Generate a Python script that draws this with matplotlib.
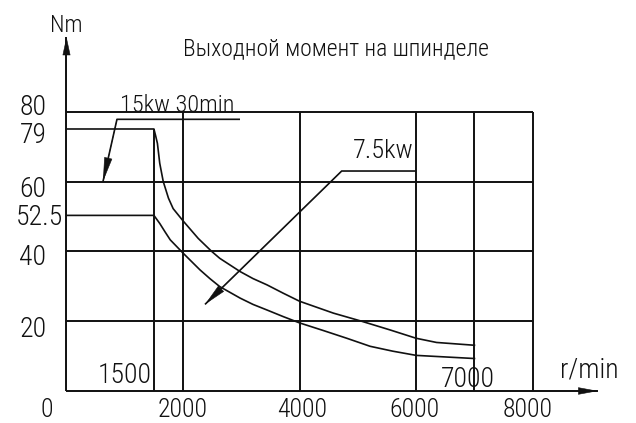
import numpy as np
import matplotlib
matplotlib.use("Agg")
import matplotlib.pyplot as plt
from matplotlib import font_manager

# ---- data -------------------------------------------------------------
title = "Выходной момент на шпинделе"

# 15 kW (30 min) torque curve, r/min -> Nm
rpm_15kw = [0, 1500, 1530, 1560, 1600, 1660, 1750, 1830, 2000, 2260, 2490,
            2630, 2980, 3200, 3440, 3720, 4000, 4290, 4580, 5060, 5550,
            6000, 6350, 7000]
torque_15kw = [79, 79, 76.5, 73.8, 66.6, 60, 56.3, 54.0, 50.6, 44.5, 40,
               38.0, 34.2, 32.2, 30.4, 28.0, 25.7, 24.0, 22.3, 20.0, 17.5,
               15.1, 13.9, 13.1]

# 7.5 kW (continuous) torque curve
rpm_75kw = [0, 1500, 1600, 1690, 1780, 2000, 2290, 2460, 2630, 2810, 2980,
            3200, 3440, 3720, 4000, 4410, 4810, 5210, 5600, 6000, 7000]
torque_75kw = [52.5, 52.5, 49.7, 46.8, 44.0, 39.5, 34.7, 32.2, 29.9, 28.2, 26.6,
               24.8, 23.2, 21.3, 19.5, 17.3, 15.1, 12.8, 11.4, 10.2, 9.3]

x_ticks = [0, 2000, 4000, 6000, 8000]
x_tick_labels = ["0", "2000", "4000", "6000", "8000"]
y_ticks = [80, 79, 60, 52.5, 40, 20]
y_tick_labels = ["80", "79", "60", "52.5", "40", "20"]
grid_y = [20, 40, 60, 80]
grid_x = [2000, 4000, 6000, 7000, 8000]
base_speed = 1500
max_speed = 7000
label_15kw = "15kw 30min"
label_75kw = "7.5kw"

# ---- fonts ------------------------------------------------------------
def pick_font(candidates):
    names = {f.name for f in font_manager.fontManager.ttflist}
    for c in candidates:
        if c in names:
            return c
    return "DejaVu Sans"

FONT = pick_font(["Liberation Sans Narrow", "Roboto Condensed",
                  "Open Sans Condensed", "Liberation Sans"])
plt.rcParams["font.family"] = [FONT, "DejaVu Sans"]
plt.rcParams["font.weight"] = "light"

# ---- figure -----------------------------------------------------------
fig = plt.figure(figsize=(6.36, 4.23), dpi=100)
ax = fig.add_axes([0, 0, 1, 1])

# schematic torque axis: spacing of the drawing is not strictly linear
Y_KNOTS = [-1000, 0, 20, 40, 52.5, 60, 79, 80, 1000]
Y_DRAWN = [-1000, 0, 20, 40, 50.3, 60, 75.05, 80, 1000]
ax.set_yscale("function",
              functions=(lambda y: np.interp(y, Y_KNOTS, Y_DRAWN),
                         lambda v: np.interp(v, Y_DRAWN, Y_KNOTS)))
ax.set_xlim(-1141, 9772)
ax.set_ylim(-9.17, 112.0)
ax.axis("off")

INK = "#111111"
GRID_LW = 1.4
CURVE_LW = 1.2

# grid
ax.hlines(grid_y, 0, max(x_ticks), color=INK, lw=GRID_LW)
ax.vlines(grid_x, 0, max(grid_y), color=INK, lw=GRID_LW)
ax.vlines(base_speed, 0, torque_15kw[0], color=INK, lw=GRID_LW)

# torque curves
ax.plot(rpm_15kw, torque_15kw, color=INK, lw=CURVE_LW, solid_joinstyle="round")
ax.plot(rpm_75kw, torque_75kw, color=INK, lw=CURVE_LW, solid_joinstyle="round")


def arrow(points, hl, hw, lw=1.3):
    """Polyline through the points, with a filled head at the last one."""
    xs, ys = zip(*points)
    ax.plot(xs, ys, color=INK, lw=lw, solid_capstyle="butt")
    ax.annotate("", xy=points[-1], xytext=points[-2],
                xycoords="data", textcoords="data",
                arrowprops=dict(arrowstyle=f"-|>,head_length={hl},head_width={hw}",
                                mutation_scale=1, lw=0.4, fc=INK, ec=INK,
                                shrinkA=0, shrinkB=0))


# axes
arrow([(0, 0), (9120, 0)], 13, 2.4, lw=1.4)
arrow([(0, 0), (0, 101.4)], 12, 2.6, lw=1.4)

# leaders
arrow([(2977, 79.56), (866, 79.56), (626, 60)], 16, 2.7, lw=CURVE_LW)
arrow([(5992, 63.8), (4722, 63.8), (2376, 24.8)], 15, 2.7, lw=CURVE_LW)

TICK_FS = 20
ax.text(923, 80, label_15kw, fontsize=17.5, ha="left", va="baseline", color=INK)
ax.text(4916, 68.4, label_75kw, fontsize=19, ha="left", va="baseline", color=INK)

# tick labels
y_offsets = {"80": (0, -3.3), "79": (0, -14.5), "60": (0, -15.5),
             "52.5": (6, -9.7), "40": (0, -13.3), "20": (0, -16.3)}
for v, lab in zip(y_ticks, y_tick_labels):
    dx, dy = y_offsets[lab]
    ax.annotate(lab, xy=(0, v), xytext=(-33.5 + dx, dy), textcoords="offset pixels",
                ha="center", va="baseline", fontsize=TICK_FS, color=INK)

x_offsets = {"0": -19.5, "2000": 0, "4000": 2.5, "6000": -2, "8000": -5}
for v, lab in zip(x_ticks, x_tick_labels):
    ax.annotate(lab, xy=(v, 0), xytext=(x_offsets[lab], -26), textcoords="offset pixels",
                ha="center", va="baseline", fontsize=18.5, color=INK)

ax.annotate(str(base_speed), xy=(base_speed, 0), xytext=(-2, 8), textcoords="offset pixels",
            ha="right", va="baseline", fontsize=TICK_FS, color=INK)
ax.annotate(str(max_speed), xy=(max_speed, 0), xytext=(-7, 4), textcoords="offset pixels",
            ha="center", va="baseline", fontsize=TICK_FS, color=INK)

# axis names and title
ax.text(8468, 4.0, "r/min", fontsize=TICK_FS, ha="left", va="baseline", color=INK)
ax.text(0, 102.8, "Nm", fontsize=17, ha="center", va="baseline", color=INK)
ax.text(4616, 96.25, title, fontsize=17, ha="center", va="baseline", color=INK)

fig.savefig("out.png", dpi=100, facecolor="white")
